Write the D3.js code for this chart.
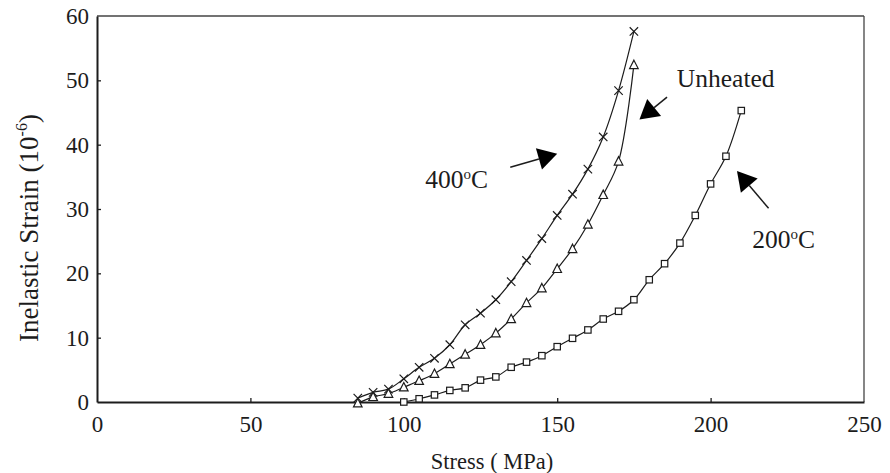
<!DOCTYPE html>
<html>
<head>
<meta charset="utf-8">
<script src="https://cdn.jsdelivr.net/npm/d3@7"></script>
<style>
  html, body { margin: 0; padding: 0; background: #fff; }
  svg text { font-family: "Liberation Serif", "DejaVu Serif", "Times New Roman", Times, serif !important; }
</style>
</head>
<body>
<svg id="chart" width="890" height="473"></svg>
<script>
// ---- data ----
const heated400X = [85, 90, 95, 100, 105, 110, 115, 120, 125, 130, 135, 140, 145, 150, 155, 160, 165, 170, 175];
const heated400Y = [0.6, 1.5, 2.0, 3.6, 5.4, 6.8, 8.9, 12.0, 13.8, 15.9, 18.7, 22.0, 25.4, 29.0, 32.3, 36.2, 41.2, 48.4, 57.6];

const unheatedX = [85, 90, 95, 100, 105, 110, 115, 120, 125, 130, 135, 140, 145, 150, 155, 160, 165, 170, 175];
const unheatedY = [-0.2, 0.8, 1.3, 2.3, 3.3, 4.4, 5.9, 7.4, 8.9, 10.7, 12.9, 15.4, 17.7, 20.7, 23.8, 27.6, 32.2, 37.4, 52.4];

const heated200X = [100, 105, 110, 115, 120, 125, 130, 135, 140, 145, 150, 155, 160, 165, 170, 175, 180, 185, 190, 195, 200, 205, 210];
const heated200Y = [0, 0.5, 1.1, 1.8, 2.2, 3.4, 3.9, 5.4, 6.2, 7.2, 8.6, 9.9, 11.2, 12.9, 14.1, 15.9, 19.0, 21.5, 24.7, 29.0, 33.9, 38.2, 45.3];

const xTicks = [0, 50, 100, 150, 200, 250];
const yTicks = [0, 10, 20, 30, 40, 50, 60];

// annotation labels + arrows, in data units
const labels = [
  { text: "400", sup: "o", tail: "C", x: 107, y: 33.3 },
  { text: "Unheated", sup: "", tail: "", x: 189, y: 49.0 },
  { text: "200", sup: "o", tail: "C", x: 213.6, y: 23.9 }
];
const arrows = [
  { x0: 134.7, y0: 36.5, x1: 150.0, y1: 38.6 },
  { x0: 185.8, y0: 47.4, x1: 176.8, y1: 43.9 },
  { x0: 218.9, y0: 30.1, x1: 208.6, y1: 35.9 }
];

// ---- layout ----
const svg = d3.select('#chart');
const plotL = 97, plotR = 864, plotT = 16, plotB = 402;
const ink = '#1c1c1c';
const tickFs = 23, noteFs = 25.5;

const x = d3.scaleLinear().domain([0, 250]).range([plotL, plotR]);
const y = d3.scaleLinear().domain([0, 60]).range([plotB, plotT]);

// frame: top and right are thinner
svg.append('line').attr('x1', plotL).attr('x2', plotR).attr('y1', plotT).attr('y2', plotT)
  .attr('stroke', '#444').attr('stroke-width', 1.3);
svg.append('line').attr('x1', plotR).attr('x2', plotR).attr('y1', plotT).attr('y2', plotB)
  .attr('stroke', '#444').attr('stroke-width', 1.3);

// axes, ticks pointing inward
const xAxis = svg.append('g').attr('transform', `translate(0,${plotB})`)
  .call(d3.axisBottom(x).tickValues(xTicks).tickSizeInner(-4).tickSizeOuter(0).tickPadding(14));
const yAxis = svg.append('g').attr('transform', `translate(${plotL},0)`)
  .call(d3.axisLeft(y).tickValues(yTicks).tickSizeInner(-4).tickSizeOuter(0).tickPadding(8));

[xAxis, yAxis].forEach(g => {
  g.attr('font-family', null).attr('font-size', null);
  g.select('.domain').attr('stroke', ink).attr('stroke-width', 2);
  g.selectAll('.tick line').attr('stroke', ink).attr('stroke-width', 1.3);
  g.selectAll('.tick text').attr('font-size', tickFs).attr('fill', ink);
});
xAxis.selectAll('.tick text').attr('dy', '0.71em');
// tick marks at the corners sit on the frame
xAxis.selectAll('.tick line').filter(d => d === 0 || d === 250).remove();
yAxis.selectAll('.tick line').filter(d => d === 0 || d === 60).remove();

// axis titles
svg.append('text').attr('x', 492).attr('y', 469).attr('text-anchor', 'middle')
  .attr('font-size', 22.5).attr('fill', ink).text('Stress ( MPa)');

const yt = svg.append('text').attr('transform', 'translate(38,228) rotate(-90)')
  .attr('text-anchor', 'middle').attr('font-size', 27).attr('fill', ink);
yt.append('tspan').text('Inelastic Strain (10');
yt.append('tspan').attr('font-size', 16).attr('dy', -11).text('-6');
yt.append('tspan').attr('dy', 11).text(')');

// ---- series ----
const line = d3.line().x(d => x(d[0])).y(d => y(d[1])).curve(d3.curveCatmullRom.alpha(0.5));

function drawSeries(xs, ys, shape) {
  const pts = xs.map((v, i) => [v, ys[i]]);
  svg.append('path').datum(pts).attr('d', line)
    .attr('fill', 'none').attr('stroke', ink).attr('stroke-width', 1.2);
  const g = svg.append('g');
  pts.forEach(p => {
    const cx = x(p[0]), cy = y(p[1]);
    if (shape === 'x') {
      const s = 4.2;
      g.append('path').attr('d', `M${cx - s},${cy - s}L${cx + s},${cy + s}M${cx - s},${cy + s}L${cx + s},${cy - s}`)
        .attr('stroke', ink).attr('stroke-width', 1.2).attr('fill', 'none');
    } else if (shape === 'tri') {
      const s = 4.3;
      g.append('path').attr('d', `M${cx},${cy - s * 1.1}L${cx + s},${cy + s * 0.85}L${cx - s},${cy + s * 0.85}Z`)
        .attr('stroke', ink).attr('stroke-width', 1.2).attr('fill', '#fff');
    } else {
      const s = 3.2;
      g.append('rect').attr('x', cx - s).attr('y', cy - s).attr('width', 2 * s).attr('height', 2 * s)
        .attr('stroke', ink).attr('stroke-width', 1.2).attr('fill', '#fff');
    }
  });
}

drawSeries(heated400X, heated400Y, 'x');
drawSeries(unheatedX, unheatedY, 'tri');
drawSeries(heated200X, heated200Y, 'sq');

// ---- annotations ----
labels.forEach(l => {
  const t = svg.append('text').attr('x', x(l.x)).attr('y', y(l.y))
    .attr('font-size', noteFs).attr('fill', ink);
  t.append('tspan').text(l.text);
  if (l.sup) {
    t.append('tspan').attr('font-size', 15).attr('dy', -9).text(l.sup);
    t.append('tspan').attr('dy', 9).text(l.tail);
  }
});

const headLen = 19, headHalf = 11;
arrows.forEach(a => {
  const px0 = x(a.x0), py0 = y(a.y0), px1 = x(a.x1), py1 = y(a.y1);
  const dx = px1 - px0, dy = py1 - py0, len = Math.hypot(dx, dy);
  const ux = dx / len, uy = dy / len;
  const bx = px1 - ux * headLen, by = py1 - uy * headLen;
  svg.append('line').attr('x1', px0).attr('y1', py0).attr('x2', bx).attr('y2', by)
    .attr('stroke', ink).attr('stroke-width', 1.5);
  svg.append('path')
    .attr('d', `M${px1},${py1}L${bx - uy * headHalf},${by + ux * headHalf}L${bx + uy * headHalf},${by - ux * headHalf}Z`)
    .attr('fill', '#000');
});
</script>
</body>
</html>
